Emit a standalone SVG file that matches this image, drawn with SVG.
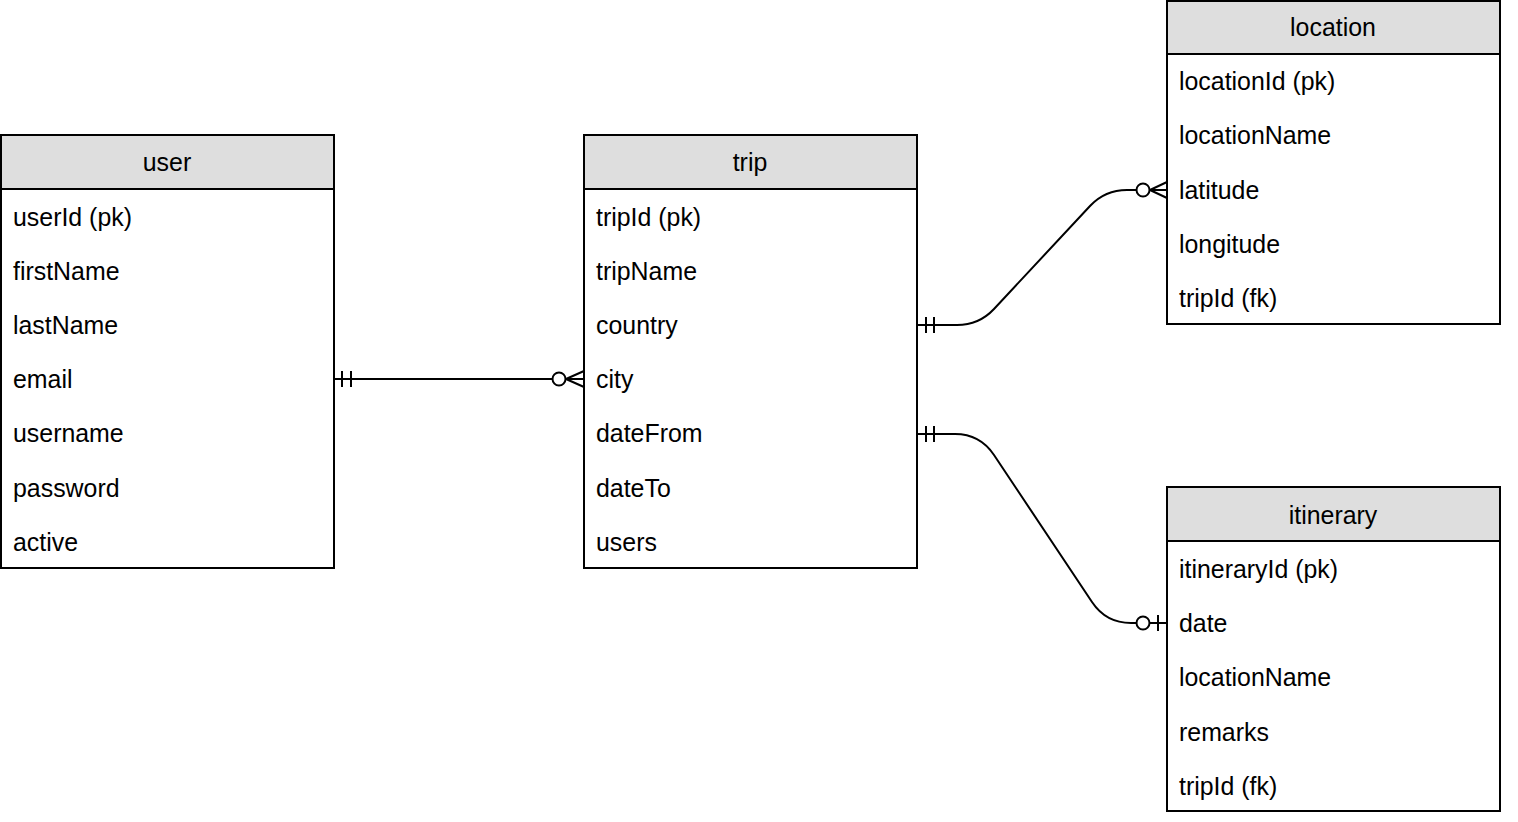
<svg xmlns="http://www.w3.org/2000/svg" width="1518" height="822" viewBox="0 0 1518 822">
<style>
.box{fill:#ffffff;stroke:#000;stroke-width:2}
.hd{fill:#dedede;stroke:#000;stroke-width:2}
.t{font-family:"Liberation Sans",Arial,Helvetica,sans-serif;font-size:24.9px;fill:#000}
.c{text-anchor:middle}
.ln{fill:none;stroke:#000;stroke-width:2}
.cir{fill:#fff;stroke:#000;stroke-width:2}
</style>
<rect width="1518" height="822" fill="#fff"/>
<g id="user">
<rect class="box" x="1" y="135" width="333" height="433"/>
<rect class="hd" x="1" y="135" width="333" height="54"/>
<text class="t c" x="167" y="171">user</text>
<text class="t" x="13" y="226">userId (pk)</text>
<text class="t" x="13" y="280">firstName</text>
<text class="t" x="13" y="334">lastName</text>
<text class="t" x="13" y="388">email</text>
<text class="t" x="13" y="442">username</text>
<text class="t" x="13" y="497">password</text>
<text class="t" x="13" y="551">active</text>
</g>
<g id="trip">
<rect class="box" x="584" y="135" width="333" height="433"/>
<rect class="hd" x="584" y="135" width="333" height="54"/>
<text class="t c" x="750" y="171">trip</text>
<text class="t" x="596" y="226">tripId (pk)</text>
<text class="t" x="596" y="280">tripName</text>
<text class="t" x="596" y="334">country</text>
<text class="t" x="596" y="388">city</text>
<text class="t" x="596" y="442">dateFrom</text>
<text class="t" x="596" y="497">dateTo</text>
<text class="t" x="596" y="551">users</text>
</g>
<g id="location">
<rect class="box" x="1167" y="1" width="333" height="323"/>
<rect class="hd" x="1167" y="1" width="333" height="53"/>
<text class="t c" x="1333" y="36">location</text>
<text class="t" x="1179" y="90">locationId (pk)</text>
<text class="t" x="1179" y="144">locationName</text>
<text class="t" x="1179" y="199">latitude</text>
<text class="t" x="1179" y="253">longitude</text>
<text class="t" x="1179" y="307">tripId (fk)</text>
</g>
<g id="itinerary">
<rect class="box" x="1167" y="487" width="333" height="324"/>
<rect class="hd" x="1167" y="487" width="333" height="54"/>
<text class="t c" x="1333" y="524">itinerary</text>
<text class="t" x="1179" y="578">itineraryId (pk)</text>
<text class="t" x="1179" y="632">date</text>
<text class="t" x="1179" y="686">locationName</text>
<text class="t" x="1179" y="741">remarks</text>
<text class="t" x="1179" y="795">tripId (fk)</text>
</g>
<g id="connectors">
<path class="ln" d="M334,379 H552"/>
<path class="ln" d="M342,371 V387 M351,371 V387"/>
<path class="ln" d="M566,379 H584 M566,379 L584,371 M566,379 L584,387"/>
<circle class="cir" cx="559" cy="379" r="6.5"/>
<path class="ln" d="M917,325 L957,325 Q979,325 994,309 L1090,206 Q1105,190 1127,190 L1136,190"/>
<path class="ln" d="M926,317 V333 M934,317 V333"/>
<path class="ln" d="M1150,190 H1167 M1150,190 L1167,182 M1150,190 L1167,198"/>
<circle class="cir" cx="1143" cy="190" r="6.5"/>
<path class="ln" d="M917,434 L955,434 Q980,434 994,455 L1092,602 Q1106,623 1131,623 L1136,623"/>
<path class="ln" d="M926,426 V442 M934,426 V442"/>
<path class="ln" d="M1150,623 H1167 M1158,615 V631"/>
<circle class="cir" cx="1143" cy="623" r="6.5"/>
</g>
</svg>
